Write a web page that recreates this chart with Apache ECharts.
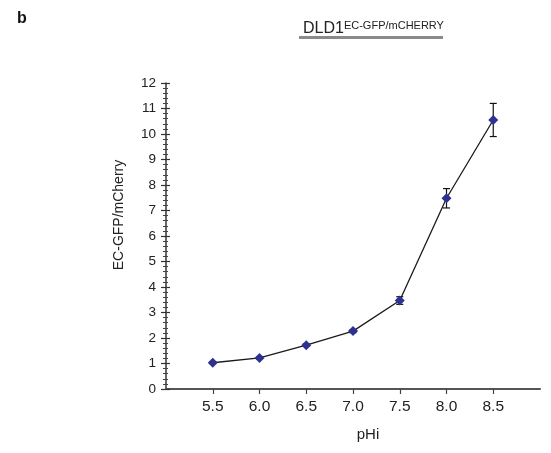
<!DOCTYPE html>
<html>
<head>
<meta charset="utf-8">
<script src="https://cdn.jsdelivr.net/npm/echarts@6/dist/echarts.min.js"></script>
<style>
html,body{margin:0;padding:0;background:#fff;}
#chart{width:551px;height:453px;}
</style>
</head>
<body>
<div id="chart"></div>
<script>
// pHi 对应的荧光比值
var phValues = [5.5, 6.0, 6.5, 7.0, 7.5, 8.0, 8.5];
var ratioValues = [1.03, 1.22, 1.72, 2.27, 3.47, 7.48, 10.55];
var ratioErrors = [0.03, 0.04, 0.05, 0.06, 0.15, 0.38, 0.65];
var xTickValues = [5.5, 6.0, 6.5, 7.0, 7.5, 8.0, 8.5];

var font = 'Liberation Sans, Arial, sans-serif';
var chart = echarts.init(document.getElementById('chart'));

var lineData = [];
var errData = [];
for (var i = 0; i < phValues.length; i++) {
	lineData.push([phValues[i], ratioValues[i]]);
	errData.push([phValues[i], ratioValues[i] - ratioErrors[i], ratioValues[i] + ratioErrors[i]]);
}

function renderErr(params, api) {
	var lo = api.coord([api.value(0), api.value(1)]);
	var hi = api.coord([api.value(0), api.value(2)]);
	var w = 3.5;
	var st = {stroke: '#111', lineWidth: 1.2};
	return {
		type: 'group',
		children: [
			{type: 'line', shape: {x1: lo[0], y1: lo[1], x2: hi[0], y2: hi[1]}, style: st},
			{type: 'line', shape: {x1: lo[0] - w, y1: lo[1], x2: lo[0] + w, y2: lo[1]}, style: st},
			{type: 'line', shape: {x1: hi[0] - w, y1: hi[1], x2: hi[0] + w, y2: hi[1]}, style: st}
		]
	};
}

var yCommon = {
	type: 'value',
	min: 0,
	max: 12,
	interval: 1,
	splitLine: {show: false}
};

var option = {
	animation: false,
	backgroundColor: '#fff',
	textStyle: {fontFamily: font},
	title: [
		{
			text: 'b',
			left: 12,
			top: 6,
			textStyle: {fontFamily: font, fontSize: 16, fontWeight: 'bold', color: '#111'}
		},
		{
			text: '{a|DLD1}{b|EC-GFP/mCHERRY}',
			left: 298,
			top: 15,
			textStyle: {
				fontWeight: 'normal',
				rich: {
					a: {fontFamily: font, fontSize: 16, fontWeight: 'normal', lineHeight: 18, color: '#222'},
					b: {fontFamily: font, fontSize: 11, fontWeight: 'normal', lineHeight: 11, verticalAlign: 'top', color: '#222'}
				}
			}
		}
	],
	graphic: [
		{type: 'rect', left: 299, top: 36, shape: {width: 144, height: 3}, style: {fill: '#8a8a8a'}}
	],
	grid: {left: 166, right: 11, top: 83, bottom: 64},
	xAxis: {
		type: 'value',
		min: 5.0,
		max: 9.0,
		name: 'pHi',
		nameLocation: 'middle',
		nameGap: 38,
		nameTextStyle: {fontFamily: font, fontSize: 15, color: '#222', padding: [0, 0, 0, 30]},
		axisLine: {lineStyle: {color: '#555', width: 2}},
		axisTick: {show: true, length: 5, customValues: xTickValues, lineStyle: {color: '#444', width: 1.2}},
		axisLabel: {
			customValues: xTickValues,
			margin: 10,
			fontFamily: font,
			fontSize: 15.5,
			color: '#222',
			formatter: function (v) { return v.toFixed(1); }
		},
		splitLine: {show: false}
	},
	yAxis: [
		Object.assign({}, yCommon, {
			name: 'EC-GFP/mCherry',
			nameLocation: 'middle',
			nameGap: 40,
			nameTextStyle: {fontFamily: font, fontSize: 14, color: '#222', padding: [0, 0, 0, 42]},
			axisLine: {show: true, lineStyle: {color: '#333', width: 1.5}},
			axisTick: {show: true, length: 5, lineStyle: {color: '#333', width: 1.2}},
			minorTick: {show: true, splitNumber: 5, length: 3, lineStyle: {color: '#444', width: 1}},
			axisLabel: {margin: 10, fontFamily: font, fontSize: 13.5, color: '#222'}
		}),
		Object.assign({}, yCommon, {
			position: 'left',
			axisLine: {show: false},
			axisTick: {show: true, inside: true, length: 4, lineStyle: {color: '#333', width: 1.2}},
			minorTick: {show: true, splitNumber: 5, length: 2, lineStyle: {color: '#444', width: 1}},
			axisLabel: {show: false}
		})
	],
	series: [
		{
			name: 'EC-GFP/mCherry',
			type: 'line',
			data: lineData,
			symbol: 'diamond',
			symbolSize: 10,
			lineStyle: {color: '#1a1a1a', width: 1.3},
			itemStyle: {color: '#2f3192'},
			z: 3
		},
		{
			name: 'err',
			type: 'custom',
			data: errData,
			renderItem: renderErr,
			encode: {x: 0, y: [1, 2]},
			z: 2
		}
	]
};
chart.setOption(option);
</script>
</body>
</html>
